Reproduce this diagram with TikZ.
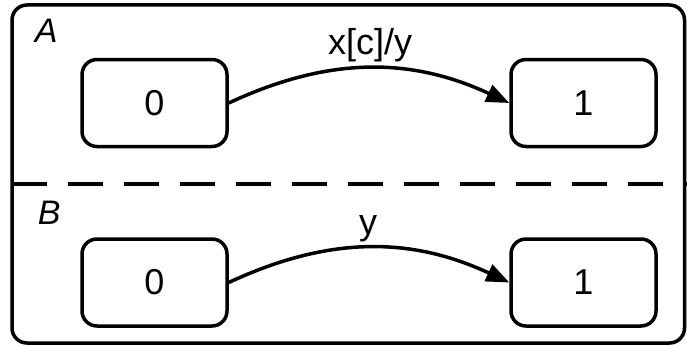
\documentclass[tikz,border=0pt]{standalone}
\usepackage{fontspec}
\setmainfont{Liberation Sans}
\usetikzlibrary{arrows.meta}
\begin{document}
\begin{tikzpicture}[x=1pt,y=1pt,line width=3.5pt,
        state/.style={draw,rounded corners=15pt,minimum width=145pt,minimum height=87pt,inner sep=0pt,font=\fontsize{36}{40}\selectfont},
        trans/.style={-{Triangle[length=23pt,width=18pt]},bend left=25},
        lbl/.style={anchor=base,inner sep=0pt,font=\fontsize{36}{40}\selectfont},
        region/.style={anchor=base west,inner sep=0pt,font=\fontsize{34}{38}\selectfont\itshape}]
    \useasboundingbox (0,0) rectangle (687,-345);
    % outer chart and the dashed split between the two regions
    \draw[rounded corners=15pt] (12,-5) rectangle (684.5,-343);
    \draw[dash pattern=on 35pt off 21pt] (12,-184) -- (687,-184);
    \node[region] (ra) at (33,-43) {A};
    \node[region] (rb) at (36,-224) {B};
    % region A
    \node[state] (a0) at (154.5,-103) {0};
    \node[state] (a1) at (583.5,-103) {1};
    \draw[trans] (a0.east) to (a1.west);
    \node[lbl] (ta) at (370,-55) {x[c]/y};
    % region B
    \node[state] (b0) at (154.5,-282.5) {0};
    \node[state] (b1) at (583.5,-282.5) {1};
    \draw[trans] (b0.east) to (b1.west);
    \node[lbl] (tb) at (368,-234) {y};
\end{tikzpicture}
\end{document}
